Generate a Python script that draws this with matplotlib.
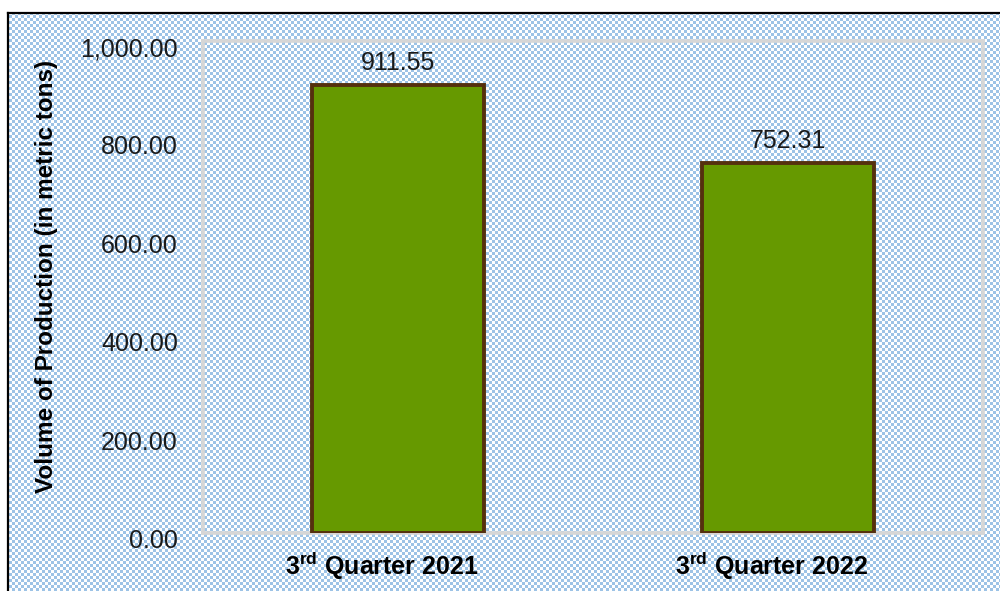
import numpy as np
import matplotlib
matplotlib.use("Agg")
import matplotlib.pyplot as plt
from matplotlib.lines import Line2D
import matplotlib.transforms as mtransforms

plt.rcParams['font.family'] = ['Liberation Sans', 'DejaVu Sans']
plt.rcParams['mathtext.fontset'] = 'custom'
plt.rcParams['mathtext.rm'] = 'Liberation Sans'
plt.rcParams['mathtext.bf'] = 'Liberation Sans:bold'
plt.rcParams['mathtext.it'] = 'Liberation Sans:italic'

# ---- data ----
categories = [r"3$^{\mathbf{rd}}$ Quarter 2021", r"3$^{\mathbf{rd}}$ Quarter 2022"]
production = [911.55, 752.31]
y_ticks = [0, 200, 400, 600, 800, 1000]
y_label = "Volume of Production (in metric tons)"

W, H, DPI = 1000, 591, 100
fig = plt.figure(figsize=(W / DPI, H / DPI), dpi=DPI)

# ---- patterned background ----
yy, xx = np.mgrid[0:H, 0:W]
blue = np.array([157, 195, 230]) / 255.0
mask = ((xx // 3) + (yy // 3)) % 2 == 0
img = np.ones((H, W, 3))
img[mask] = blue
img[(xx < 9) | (yy < 14)] = 1.0
bg = fig.add_axes([0, 0, 1, 1], zorder=0)
bg.imshow(img, interpolation='nearest', extent=(0, W, H, 0), aspect='auto')
bg.set_xlim(0, W)
bg.set_ylim(H, 0)
bg.axis('off')
# outer black frame
bg.add_line(Line2D([8, 8], [13, H], color='black', lw=1.6))
bg.add_line(Line2D([8, W], [13, 13], color='black', lw=1.6))

# ---- main axes ----
left, right, top, bottom = 203, 983, 41, 533
ax = fig.add_axes([left / W, 1 - bottom / H, (right - left) / W, (bottom - top) / H], zorder=1)
ax.patch.set_alpha(0)

x = np.arange(len(categories))
bars = ax.bar(x, production, width=0.44, color='#669900', edgecolor='#55300E',
              linewidth=2.8, zorder=3)
ax.bar_label(bars, labels=[f"{v:.2f}" for v in production], padding=7,
             fontsize=18, color='#1a1a1a')

ax.set_xlim(-0.5, 1.5)
ax.set_ylim(0, 1000)
ax.set_yticks(y_ticks)
ax.set_yticklabels([f"{v:,.2f}" for v in y_ticks], fontsize=18, color='#1a1a1a')
ax.set_xticks(x)
ax.set_xticklabels(categories, fontsize=18, fontweight='bold', color='black')
ax.tick_params(axis='both', length=0)
ax.tick_params(axis='y', pad=18)
ax.tick_params(axis='x', pad=12)

for lab in ax.get_yticklabels():
    lab.set_transform(lab.get_transform() + mtransforms.ScaledTranslation(0, -4 / 72, fig.dpi_scale_trans))
for lab in ax.get_xticklabels():
    lab.set_transform(lab.get_transform() + mtransforms.ScaledTranslation(-12 / 72, 0, fig.dpi_scale_trans))

for s in ax.spines.values():
    s.set_color('#D6D6D6')
    s.set_linewidth(2.6)

ax.set_ylabel(y_label, fontsize=17.5, fontweight='bold', color='black')
ax.yaxis.set_label_coords((58 - left) / (right - left), (bottom - 276) / (bottom - top))

fig.savefig("out.png", dpi=DPI)
